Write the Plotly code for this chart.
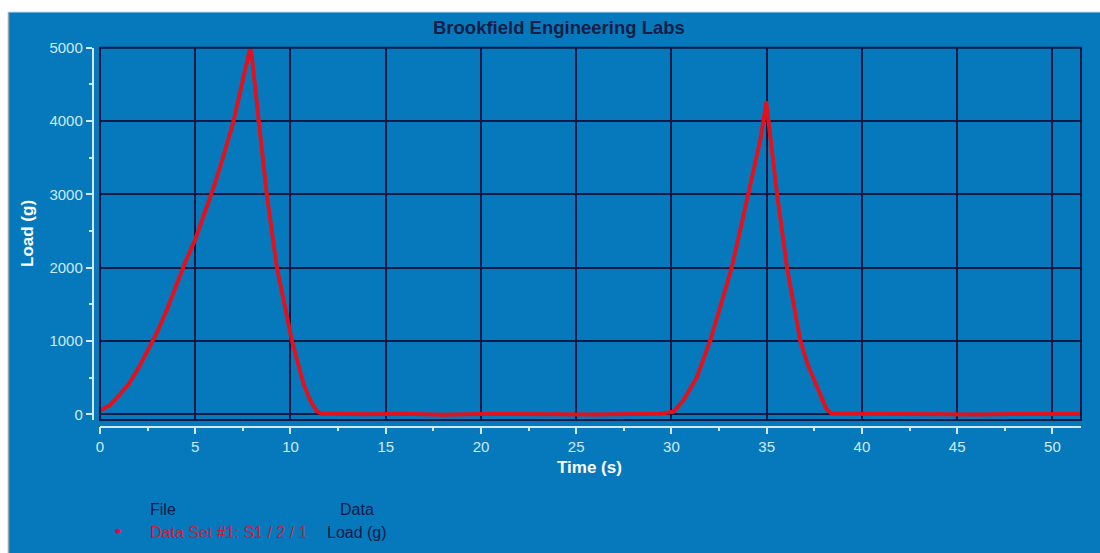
import plotly.graph_objects as go

# ---- data ----
time_s = [0, 0.5, 1.0, 1.5, 2.0, 2.5, 3.0, 3.5, 4.0, 4.5, 5.0, 5.5, 6.0, 6.5, 7.0, 7.5, 7.88,
          7.97, 8.31, 8.75, 9.28, 9.7, 10.07, 10.4, 10.68, 11.0, 11.38, 11.64,
          12.5, 14, 16, 18, 20, 22, 24, 26, 28, 29.4,
          30.1, 30.64, 31.34, 32.04, 32.6, 33.17, 33.6, 34.05, 34.4, 34.66, 34.98,
          35.1, 35.54, 36.06, 36.4, 36.76, 37.15, 37.55, 37.9, 38.16, 38.42,
          40, 42, 44, 46, 48, 50, 51.5]
load_g = [50, 120, 260, 410, 620, 860, 1120, 1420, 1760, 2090, 2385, 2750, 3120, 3540, 3990, 4560, 4990,
          4880, 4010, 3010, 2010, 1480, 1010, 690, 420, 210, 40, 10,
          5, 0, 8, -5, 5, 0, 6, -4, 5, 8,
          35, 195, 510, 1010, 1500, 2010, 2500, 3010, 3420, 3740, 4250,
          3990, 3010, 2010, 1520, 1010, 680, 420, 200, 60, 10,
          5, 0, 6, -3, 4, 0, 5]

x_ticks = [0, 5, 10, 15, 20, 25, 30, 35, 40, 45, 50]
y_ticks = [0, 1000, 2000, 3000, 4000, 5000]

TITLE = "Brookfield Engineering Labs"
X_TITLE = "Time (s)"
Y_TITLE = "Load (g)"
SERIES_NAME = "Data Set #1: S1 / 2 / 1"

W, H = 1100, 553
BLUE = "#0679bd"
NAVY = "#0d1a45"
LIGHT = "#cfeafa"
RED = "#e0121e"
FONT = "Liberation Sans, Arial, sans-serif"


def px(xp):
    return xp / W


def py(yp):
    return 1 - yp / H


fig = go.Figure()
fig.add_trace(go.Scatter(
    x=time_s, y=load_g, mode="lines+markers",
    line=dict(color=RED, width=4),
    marker=dict(color=RED, size=4),
    name=SERIES_NAME, showlegend=False,
))

x0p, x1p = px(100), px(1081)
y0p, y1p = py(420), py(47.7)

tickfont = dict(family=FONT, size=15, color=LIGHT)


def label(text, x, y, size=16, color=NAVY, xanchor="left", bold=False, angle=0):
    return dict(text=text, x=px(x), y=py(y), xref="paper", yref="paper", showarrow=False,
                xanchor=xanchor, yanchor="middle", textangle=angle,
                font=dict(family=FONT, size=size, color=color, weight="bold" if bold else "normal"))


fig.update_layout(
    width=W, height=H,
    margin=dict(l=0, r=0, t=0, b=0, pad=0, autoexpand=False),
    paper_bgcolor="white",
    plot_bgcolor=BLUE,
    xaxis=dict(
        domain=[x0p, x1p], range=[0, 51.5], anchor="free", position=py(426.5),
        tickvals=x_ticks, ticks="outside", ticklen=7, tickwidth=1.5, tickcolor=LIGHT,
        showline=True, linecolor=LIGHT, linewidth=1.5,
        showgrid=True, gridcolor=NAVY, gridwidth=1.5,
        zeroline=False, tickfont=tickfont, automargin=False,
        minor=dict(dtick=2.5, ticks="outside", ticklen=4, tickcolor=LIGHT, showgrid=False),
    ),
    yaxis=dict(
        domain=[y0p, y1p], range=[-78, 5000], anchor="free", position=px(92.5),
        tickvals=y_ticks, tickformat="d", ticks="outside", ticklen=6, tickwidth=1.5, tickcolor=LIGHT,
        showline=True, linecolor=LIGHT, linewidth=1.5,
        showgrid=True, gridcolor=NAVY, gridwidth=1.5,
        zeroline=True, zerolinecolor=NAVY, zerolinewidth=1.5,
        tickfont=tickfont, automargin=False,
        minor=dict(dtick=500, ticks="outside", ticklen=3, tickcolor=LIGHT, showgrid=False),
    ),
    shapes=[
        dict(type="rect", xref="paper", yref="paper", x0=px(9), x1=1, y0=0, y1=py(12),
             fillcolor=BLUE, line=dict(width=0), layer="below"),
        dict(type="line", xref="paper", yref="paper", x0=px(8.5), x1=px(8.5), y0=0, y1=py(12),
             line=dict(color="#9aa6ad", width=1.5), layer="below"),
        dict(type="line", xref="paper", yref="paper", x0=px(9), x1=1, y0=py(12), y1=py(12),
             line=dict(color="#bfe3f5", width=1), layer="below"),
        dict(type="rect", xref="paper", yref="paper", x0=x0p, x1=x1p, y0=y0p, y1=y1p,
             line=dict(color=NAVY, width=2), layer="above"),
    ],
    annotations=[
        label(TITLE, 558.5, 27, size=18.5, color="#141e46", xanchor="center", bold=True),
        label(X_TITLE, 589.5, 467, size=17, color="white", xanchor="center", bold=True),
        label(Y_TITLE, 27, 234, size=17, color="white", xanchor="center", bold=True, angle=-90),
        label("File", 148, 509),
        label("Data", 338, 509),
        dict(text="●", x=px(118), y=py(531), xref="paper", yref="paper", showarrow=False,
             xanchor="center", yanchor="middle",
             font=dict(family="DejaVu Sans", size=7, color="#d0104a")),
        label(SERIES_NAME, 148, 532, color="#c81e3c"),
        label("Load (g)", 325, 532),
    ],
)

fig.write_html("out.html")
